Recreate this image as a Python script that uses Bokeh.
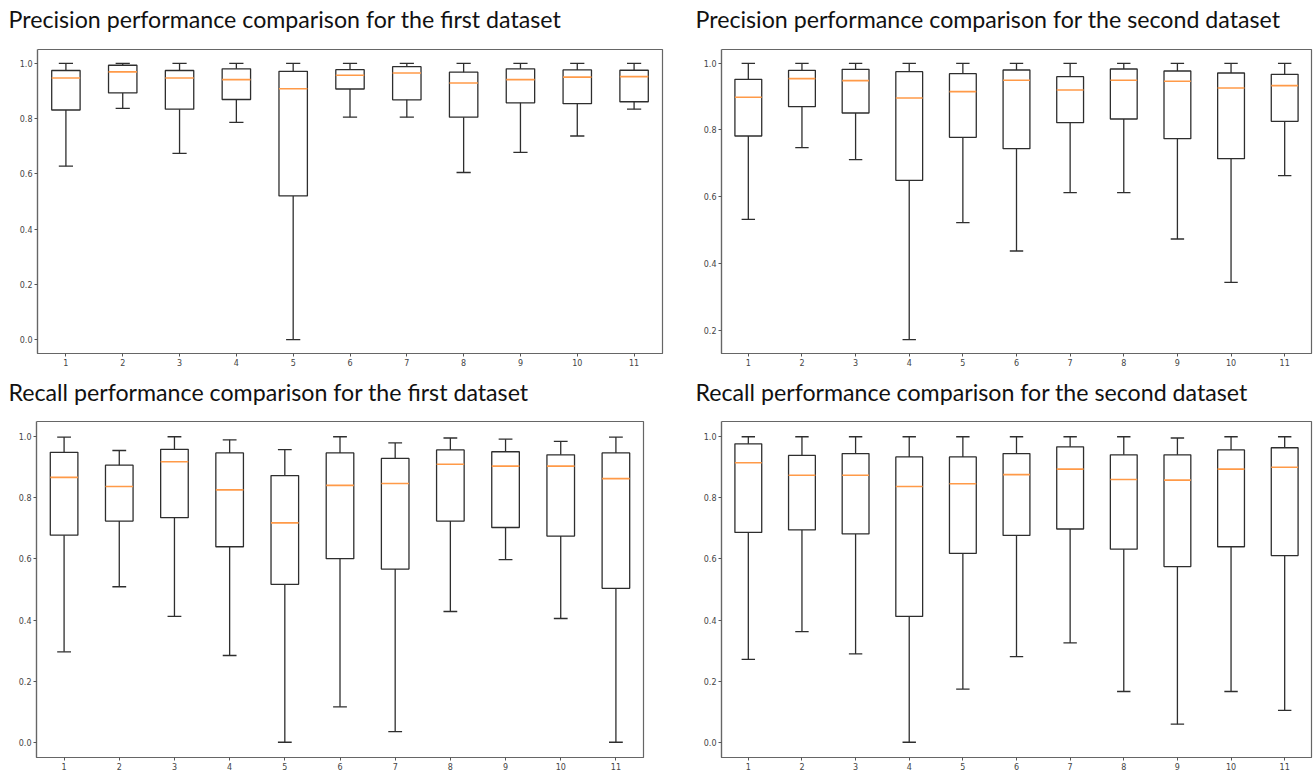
import numpy as np
from bokeh.plotting import figure
from bokeh.models import ColumnDataSource, Range1d, FixedTicker, NumeralTickFormatter, LinearAxis
from bokeh.layouts import row, column
from bokeh.embed import file_html
from bokeh.resources import INLINE

methods = [1, 2, 3, 4, 5, 6, 7, 8, 9, 10, 11]
y_ticks = [0.0, 0.2, 0.4, 0.6, 0.8, 1.0]

titles = [
    "Precision performance comparison for the first dataset",
    "Precision performance comparison for the second dataset",
    "Recall performance comparison for the first dataset",
    "Recall performance comparison for the second dataset",
]

# Precision, first dataset
prec1_low = [0.628, 0.837, 0.674, 0.786, 0.0, 0.805, 0.805, 0.605, 0.678, 0.737, 0.834]
prec1_q1 = [0.831, 0.893, 0.834, 0.869, 0.520, 0.907, 0.868, 0.805, 0.857, 0.854, 0.861]
prec1_med = [0.947, 0.969, 0.947, 0.941, 0.908, 0.957, 0.965, 0.929, 0.941, 0.950, 0.952]
prec1_q3 = [0.974, 0.993, 0.974, 0.980, 0.971, 0.977, 0.988, 0.968, 0.980, 0.976, 0.975]
prec1_high = [1.0, 1.0, 1.0, 1.0, 1.0, 1.0, 1.0, 1.0, 1.0, 1.0, 1.0]

# Precision, second dataset
prec2_low = [0.532, 0.747, 0.711, 0.171, 0.522, 0.437, 0.612, 0.612, 0.473, 0.343, 0.663]
prec2_q1 = [0.782, 0.870, 0.851, 0.649, 0.778, 0.744, 0.822, 0.833, 0.774, 0.714, 0.826]
prec2_med = [0.898, 0.954, 0.948, 0.896, 0.915, 0.949, 0.920, 0.949, 0.946, 0.926, 0.933]
prec2_q3 = [0.952, 0.979, 0.982, 0.975, 0.969, 0.980, 0.960, 0.983, 0.977, 0.971, 0.967]
prec2_high = [1.0, 1.0, 1.0, 1.0, 1.0, 1.0, 1.0, 1.0, 1.0, 1.0, 1.0]

# Recall, first dataset
rec1_low = [0.296, 0.509, 0.412, 0.284, 0.0, 0.116, 0.035, 0.428, 0.598, 0.405, 0.0]
rec1_q1 = [0.678, 0.724, 0.735, 0.640, 0.517, 0.601, 0.567, 0.724, 0.703, 0.675, 0.504]
rec1_med = [0.867, 0.837, 0.918, 0.826, 0.718, 0.841, 0.847, 0.910, 0.904, 0.904, 0.863]
rec1_q3 = [0.949, 0.907, 0.959, 0.947, 0.873, 0.947, 0.929, 0.957, 0.951, 0.941, 0.947]
rec1_high = [0.999, 0.955, 1.0, 0.990, 0.958, 1.0, 0.980, 0.996, 0.992, 0.985, 0.999]

# Recall, second dataset
rec2_low = [0.271, 0.362, 0.289, 0.0, 0.174, 0.280, 0.325, 0.166, 0.059, 0.166, 0.104]
rec2_q1 = [0.687, 0.695, 0.682, 0.412, 0.618, 0.677, 0.698, 0.632, 0.575, 0.640, 0.611]
rec2_med = [0.915, 0.874, 0.874, 0.837, 0.846, 0.876, 0.894, 0.860, 0.858, 0.894, 0.900]
rec2_q3 = [0.977, 0.939, 0.945, 0.934, 0.934, 0.945, 0.967, 0.941, 0.941, 0.957, 0.964]
rec2_high = [1.0, 1.0, 1.0, 1.0, 1.0, 1.0, 1.0, 1.0, 0.996, 1.0, 1.0]

BOX_W = 0.5
CAP_W = 0.25
LINE = "#2e2e2e"
MED = "#ff9a48"


def panel(title, low, q1, med, q3, high, width, height, mb_left, mb_right, mb_top, mb_bottom,
          t_off, spacer):
    x = np.array(methods, dtype=float)
    low = np.array(low); high = np.array(high)
    lo_v, hi_v = low.min(), high.max()
    pad = 0.05 * (hi_v - lo_v)
    p = figure(width=width, height=height, output_backend="svg", toolbar_location=None,
               x_range=Range1d(0.5, len(methods) + 0.5), y_range=Range1d(lo_v - pad, hi_v + pad),
               min_border_left=mb_left, min_border_right=mb_right,
               min_border_top=mb_top, min_border_bottom=mb_bottom)
    src = ColumnDataSource(dict(x=x, left=x - BOX_W / 2, right=x + BOX_W / 2,
                                cl=x - CAP_W / 2, cr=x + CAP_W / 2,
                                low=low, q1=q1, med=med, q3=q3, high=high))
    p.segment(x0="x", y0="q3", x1="x", y1="high", source=src, line_color=LINE, line_width=1.3)
    p.segment(x0="x", y0="q1", x1="x", y1="low", source=src, line_color=LINE, line_width=1.3)
    p.segment(x0="cl", y0="high", x1="cr", y1="high", source=src, line_color=LINE, line_width=1.3)
    p.segment(x0="cl", y0="low", x1="cr", y1="low", source=src, line_color=LINE, line_width=1.3)
    p.quad(left="left", right="right", bottom="q1", top="q3", source=src,
           fill_color=None, line_color=LINE, line_width=1.3)
    p.segment(x0="left", y0="med", x1="right", y1="med", source=src, line_color=MED, line_width=1.6)

    p.xgrid.visible = False
    p.ygrid.visible = False
    p.outline_line_color = "#666666"
    p.outline_line_width = 1.2
    p.xaxis.ticker = FixedTicker(ticks=methods)
    p.yaxis.ticker = FixedTicker(ticks=y_ticks)
    p.yaxis.formatter = NumeralTickFormatter(format="0.0")
    for ax in (p.xaxis, p.yaxis):
        ax.axis_line_color = "#666666"
        ax.axis_line_width = 1.2
        ax.major_tick_line_color = "#555555"
        ax.major_tick_out = 3
        ax.major_tick_in = 0
        ax.minor_tick_line_color = None
        ax.major_label_text_font = "DejaVu Sans"
        ax.major_label_text_font_size = "8px"
        ax.major_label_text_color = "#444444"
        ax.major_label_standoff = 2

    # invisible spacer between the frame and the title: one white tick at the
    # frame's left edge, no labels, no axis line
    sp = LinearAxis(ticker=FixedTicker(ticks=[0.5]), axis_line_color=None,
                    major_tick_out=spacer, major_tick_in=0, minor_tick_out=0, minor_tick_in=0,
                    major_tick_line_color="white", major_tick_line_width=1,
                    minor_tick_line_color=None,
                    major_label_overrides={0.5: ""},
                    major_label_text_alpha=0, major_label_text_font_size="1px",
                    major_label_standoff=0)
    p.add_layout(sp, "above")

    p.title.text = title
    p.title.align = "left"
    p.title.offset = t_off
    p.title.text_font = "Lato"
    p.title.text_font_size = "23.2px"
    p.title.text_font_style = "normal"
    p.title.text_color = "#111111"
    p.title.standoff = 2
    return p


pA = panel(titles[0], prec1_low, prec1_q1, prec1_med, prec1_q3, prec1_high,
           690, 374, 37, 28, 49, 18, -29, 16)
pB = panel(titles[1], prec2_low, prec2_q1, prec2_med, prec2_q3, prec2_high,
           623, 374, 31, 2, 49, 21, -26, 16)
pC = panel(titles[2], rec1_low, rec1_q1, rec1_med, rec1_q3, rec1_high,
           690, 398, 36, 47, 47, 15, -28, 15)
pD = panel(titles[3], rec2_low, rec2_q1, rec2_med, rec2_q3, rec2_high,
           623, 398, 31, 2, 47, 15, -26, 15)

layout = column(row(pA, pB), row(pC, pD))
open("out.html", "w").write(file_html(layout, INLINE))
